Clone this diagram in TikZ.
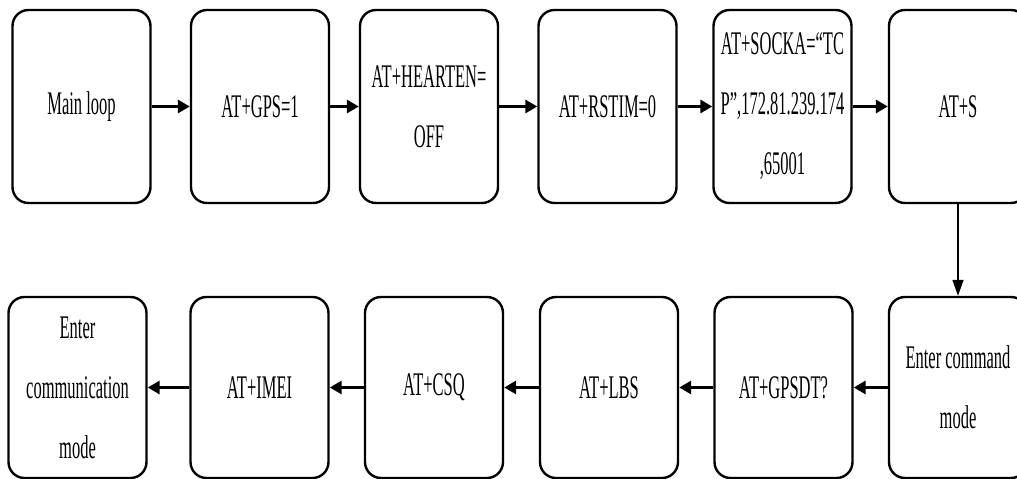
\documentclass[tikz,border=0pt]{standalone}
\usepackage{fontspec}
\setmainfont{Liberation Serif}[FakeStretch=0.5]
\usetikzlibrary{arrows.meta}

\begin{document}
\begin{tikzpicture}[x=1pt,y=-1pt,
  box/.style={draw,line width=2.4pt,rounded corners=16pt,minimum width=138pt,
    align=center,font=\fontsize{33}{60}\selectfont},
  toprow/.style={box,minimum height=193pt},
  botrow/.style={box,minimum height=181pt},
  flow/.style={line width=3.5pt,-{Triangle[length=12pt,width=13pt]}},
  down/.style={line width=1.6pt,-{Triangle[length=16pt,width=11pt]}}]
\useasboundingbox (0,0) rectangle (1017,479);
\clip (0,0) rectangle (1017,479);

% first row, left to right
\node[toprow] (main) at (81.5,106.5) {Main loop};
\node[toprow] (gps) at (260,106.5) {AT+GPS=1};
\node[toprow] (heart) at (429,106.5) {AT+HEARTEN=\\OFF};
\node[toprow] (rstim) at (607.5,106.5) {AT+RSTIM=0};
\node[toprow] (socka) at (782.5,106.5) {AT+SOCKA=“TC\\P”,172.81.239.174\\,65001};
\node[toprow] (ats) at (958,106.5) {AT+S};

% second row, right to left
\node[botrow] (cmd) at (958,387.5) {Enter command\\mode};
\node[botrow] (gpsdt) at (783.5,387.5) {AT+GPSDT?};
\node[botrow] (lbs) at (609,387.5) {AT+LBS};
\node[botrow] (csq) at (434,387.5) {AT+CSQ};
\node[botrow] (imei) at (259.5,387.5) {AT+IMEI};
\node[botrow] (comm) at (77.5,387.5) {Enter\\communication\\mode};

% connectors
\draw[flow] (main) -- (gps);
\draw[flow] (gps) -- (heart);
\draw[flow] (heart) -- (rstim);
\draw[flow] (rstim) -- (socka);
\draw[flow] (socka) -- (ats);
\draw[down] (ats) -- (cmd);
\draw[flow] (cmd) -- (gpsdt);
\draw[flow] (gpsdt) -- (lbs);
\draw[flow] (lbs) -- (csq);
\draw[flow] (csq) -- (imei);
\draw[flow] (imei) -- (comm);
\end{tikzpicture}
\end{document}
